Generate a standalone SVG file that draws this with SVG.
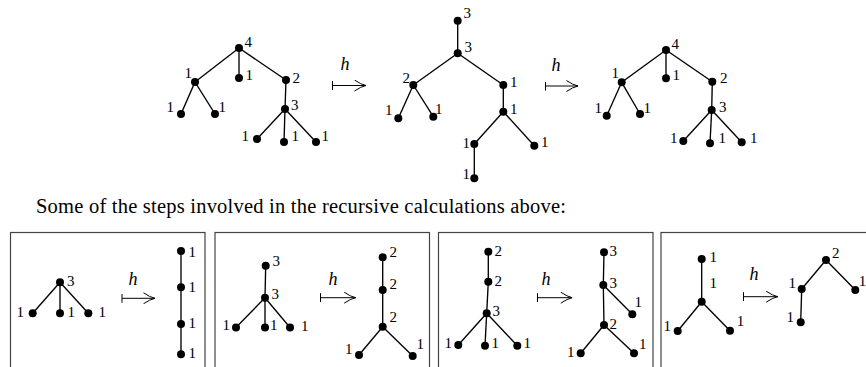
<svg xmlns="http://www.w3.org/2000/svg" width="866" height="367" viewBox="0 0 866 367" font-family="'Liberation Serif', 'DejaVu Serif', serif">
<style>
.e line{stroke:#000;stroke-width:1.35}
circle{fill:#000}
text{font-family:'Liberation Serif','DejaVu Serif',serif;font-size:15px;fill:#000}
text.h{font-style:italic;font-size:18px}
text.cap{font-size:20.5px}
.ar{stroke:#000;stroke-width:1;fill:none}
.box{fill:none;stroke:#444;stroke-width:1.2}
</style>
<defs>
<marker id="ah" viewBox="0 0 12 12" refX="12" refY="6" markerWidth="12" markerHeight="12" markerUnits="userSpaceOnUse" orient="auto">
<path d="M0.5,0.5 Q7,5 12,6 Q7,7 0.5,11.5" fill="none" stroke="#000" stroke-width="1"/>
</marker>
<marker id="bar" viewBox="0 0 2 9" refX="1" refY="4.5" markerWidth="2" markerHeight="9" markerUnits="userSpaceOnUse" orient="auto">
<line x1="1" y1="0" x2="1" y2="9" stroke="#000" stroke-width="1"/>
</marker>
</defs>

<g id="boxes">
<rect class="box" x="10.5" y="232.5" width="194.5" height="200"/>
<rect class="box" x="215" y="232.5" width="214.5" height="200"/>
<rect class="box" x="438.5" y="232.5" width="214.5" height="200"/>
<rect class="box" x="661" y="232.5" width="230" height="200"/>
</g>

<text class="cap" x="36" y="213.3" textLength="530" lengthAdjust="spacing">Some of the steps involved in the recursive calculations above:</text>

<g id="connectors" class="e">
<line x1="239" y1="48" x2="195" y2="82"/>
<line x1="239" y1="48" x2="239" y2="78"/>
<line x1="239" y1="48" x2="286" y2="80"/>
<line x1="195" y1="82" x2="181" y2="114"/>
<line x1="195" y1="82" x2="215" y2="114"/>
<line x1="286" y1="80" x2="285" y2="109"/>
<line x1="285" y1="109" x2="257" y2="139"/>
<line x1="285" y1="109" x2="284" y2="142"/>
<line x1="285" y1="109" x2="316" y2="142"/>
<line x1="457.7" y1="20.7" x2="457.7" y2="53.3"/>
<line x1="457.7" y1="53.3" x2="413.3" y2="85"/>
<line x1="457.7" y1="53.3" x2="503.3" y2="85"/>
<line x1="413.3" y1="85" x2="398.3" y2="118.3"/>
<line x1="413.3" y1="85" x2="433.3" y2="116.7"/>
<line x1="503.3" y1="85" x2="503.3" y2="111.7"/>
<line x1="503.3" y1="111.7" x2="474.3" y2="144"/>
<line x1="503.3" y1="111.7" x2="534.3" y2="145.7"/>
<line x1="474.3" y1="144" x2="474.3" y2="178.3"/>
<line x1="666" y1="50" x2="621.7" y2="82.3"/>
<line x1="666" y1="50" x2="666" y2="78.3"/>
<line x1="666" y1="50" x2="712.3" y2="81.7"/>
<line x1="621.7" y1="82.3" x2="606.7" y2="115.7"/>
<line x1="621.7" y1="82.3" x2="640" y2="114"/>
<line x1="712.3" y1="81.7" x2="711.7" y2="110"/>
<line x1="711.7" y1="110" x2="683.3" y2="141"/>
<line x1="711.7" y1="110" x2="710" y2="143.3"/>
<line x1="711.7" y1="110" x2="741.7" y2="142.3"/>
<line x1="60" y1="282.3" x2="32.7" y2="313.3"/>
<line x1="60" y1="282.3" x2="60" y2="313.3"/>
<line x1="60" y1="282.3" x2="88.3" y2="313.3"/>
<line x1="181" y1="251" x2="181" y2="354.3"/>
<line x1="265.7" y1="265.7" x2="265" y2="297.7"/>
<line x1="265" y1="297.7" x2="236" y2="327.5"/>
<line x1="265" y1="297.7" x2="265" y2="327.5"/>
<line x1="265" y1="297.7" x2="290" y2="327.5"/>
<line x1="382.7" y1="257.3" x2="382.7" y2="326.7"/>
<line x1="382.7" y1="326.7" x2="359" y2="355"/>
<line x1="382.7" y1="326.7" x2="412.7" y2="356"/>
<line x1="488.3" y1="251.7" x2="488.3" y2="281.7"/>
<line x1="488.3" y1="281.7" x2="486.7" y2="313.3"/>
<line x1="486.7" y1="313.3" x2="458.3" y2="345"/>
<line x1="486.7" y1="313.3" x2="485" y2="345.7"/>
<line x1="486.7" y1="313.3" x2="517.3" y2="345.7"/>
<line x1="604" y1="252.3" x2="603.3" y2="285"/>
<line x1="603.3" y1="285" x2="632.3" y2="314.3"/>
<line x1="603.3" y1="285" x2="604" y2="325"/>
<line x1="604" y1="325" x2="580.7" y2="353.3"/>
<line x1="604" y1="325" x2="634" y2="353.3"/>
<line x1="701.7" y1="259" x2="701.7" y2="301.7"/>
<line x1="701.7" y1="301.7" x2="677.7" y2="331"/>
<line x1="701.7" y1="301.7" x2="730" y2="330.7"/>
<line x1="826" y1="260" x2="801.7" y2="289"/>
<line x1="826" y1="260" x2="855.3" y2="290"/>
<line x1="801.7" y1="289" x2="800.7" y2="322.3"/>
</g>

<g id="maps">
<g id="map1"><text class="h" x="340.5" y="70">h</text><line class="ar" x1="332.5" y1="85.5" x2="366" y2="85.5" marker-start="url(#bar)" marker-end="url(#ah)"/></g>
<g id="map2"><text class="h" x="551.5" y="71">h</text><line class="ar" x1="545.5" y1="86" x2="578" y2="86" marker-start="url(#bar)" marker-end="url(#ah)"/></g>
<g id="map3"><text class="h" x="128.5" y="285">h</text><line class="ar" x1="122" y1="298.3" x2="155" y2="298.3" marker-start="url(#bar)" marker-end="url(#ah)"/></g>
<g id="map4"><text class="h" x="328.5" y="285">h</text><line class="ar" x1="320.5" y1="297.7" x2="355.7" y2="297.7" marker-start="url(#bar)" marker-end="url(#ah)"/></g>
<g id="map5"><text class="h" x="541.5" y="285">h</text><line class="ar" x1="537.5" y1="297.7" x2="572.3" y2="297.7" marker-start="url(#bar)" marker-end="url(#ah)"/></g>
<g id="map6"><text class="h" x="749.5" y="280">h</text><line class="ar" x1="743.5" y1="296.7" x2="777.7" y2="296.7" marker-start="url(#bar)" marker-end="url(#ah)"/></g>
</g>

<g id="t1a"><circle cx="239" cy="48" r="4"/><text x="244.5" y="46.7">4</text></g>
<g id="t1b"><circle cx="195" cy="82" r="4"/><text x="184.5" y="78">1</text></g>
<g id="t1c"><circle cx="239" cy="78" r="4"/><text x="245.5" y="80">1</text></g>
<g id="t1d"><circle cx="286" cy="80" r="4"/><text x="292.5" y="82.7">2</text></g>
<g id="t1e"><circle cx="285" cy="109" r="4"/><text x="291" y="110">3</text></g>
<g id="t1f"><circle cx="181" cy="114" r="4"/><text x="166.5" y="111.7">1</text></g>
<g id="t1g"><circle cx="215" cy="114" r="4"/><text x="218.5" y="111.7">1</text></g>
<g id="t1h"><circle cx="257" cy="139" r="4"/><text x="241.5" y="141">1</text></g>
<g id="t1i"><circle cx="284" cy="142" r="4"/><text x="291.5" y="141">1</text></g>
<g id="t1j"><circle cx="316" cy="142" r="4"/><text x="321.5" y="141">1</text></g>

<g id="t2a"><circle cx="457.7" cy="20.7" r="4"/><text x="463.5" y="18.3">3</text></g>
<g id="t2b"><circle cx="457.7" cy="53.3" r="4"/><text x="464.5" y="51.7">3</text></g>
<g id="t2c"><circle cx="413.3" cy="85" r="4"/><text x="402.5" y="82.7">2</text></g>
<g id="t2d"><circle cx="398.3" cy="118.3" r="4"/><text x="385" y="115">1</text></g>
<g id="t2e"><circle cx="433.3" cy="116.7" r="4"/><text x="435" y="114">1</text></g>
<g id="t2f"><circle cx="503.3" cy="85" r="4"/><text x="510" y="87.3">1</text></g>
<g id="t2g"><circle cx="503.3" cy="111.7" r="4"/><text x="510" y="114">1</text></g>
<g id="t2h"><circle cx="474.3" cy="144" r="4"/><text x="462.5" y="148.3">1</text></g>
<g id="t2i"><circle cx="534.3" cy="145.7" r="4"/><text x="541" y="146.7">1</text></g>
<g id="t2j"><circle cx="474.3" cy="178.3" r="4"/><text x="462.5" y="179.3">1</text></g>

<g id="t3a"><circle cx="666" cy="50" r="4"/><text x="671.5" y="49">4</text></g>
<g id="t3b"><circle cx="621.7" cy="82.3" r="4"/><text x="611.5" y="77.7">1</text></g>
<g id="t3c"><circle cx="666" cy="78.3" r="4"/><text x="672.5" y="80">1</text></g>
<g id="t3d"><circle cx="712.3" cy="81.7" r="4"/><text x="720" y="83.3">2</text></g>
<g id="t3e"><circle cx="711.7" cy="110" r="4"/><text x="719" y="112.3">3</text></g>
<g id="t3f"><circle cx="606.7" cy="115.7" r="4"/><text x="594.5" y="113.3">1</text></g>
<g id="t3g"><circle cx="640" cy="114" r="4"/><text x="643.5" y="113">1</text></g>
<g id="t3h"><circle cx="683.3" cy="141" r="4"/><text x="670" y="143.3">1</text></g>
<g id="t3i"><circle cx="710" cy="143.3" r="4"/><text x="718.5" y="143">1</text></g>
<g id="t3j"><circle cx="741.7" cy="142.3" r="4"/><text x="750" y="143">1</text></g>

<g id="b1a"><circle cx="60" cy="282.3" r="4"/><text x="67" y="285.7">3</text></g>
<g id="b1b"><circle cx="32.7" cy="313.3" r="4"/><text x="16.5" y="317.3">1</text></g>
<g id="b1c"><circle cx="60" cy="313.3" r="4"/><text x="67.5" y="317">1</text></g>
<g id="b1d"><circle cx="88.3" cy="313.3" r="4"/><text x="98.5" y="317">1</text></g>
<g id="b1e"><circle cx="181" cy="251" r="4"/><text x="188.5" y="256.7">1</text></g>
<g id="b1f"><circle cx="181" cy="287.3" r="4"/><text x="188.5" y="291.7">1</text></g>
<g id="b1g"><circle cx="181" cy="324" r="4"/><text x="188.5" y="328.3">1</text></g>
<g id="b1h"><circle cx="181" cy="354.3" r="4"/><text x="188.5" y="358.3">1</text></g>

<g id="b2a"><circle cx="265.7" cy="265.7" r="4"/><text x="272.5" y="265.7">3</text></g>
<g id="b2b"><circle cx="265" cy="297.7" r="4"/><text x="271.5" y="299">3</text></g>
<g id="b2c"><circle cx="236" cy="327.5" r="4"/><text x="222.5" y="330">1</text></g>
<g id="b2d"><circle cx="265" cy="327.5" r="4"/><text x="270" y="330">1</text></g>
<g id="b2e"><circle cx="290" cy="327.5" r="4"/><text x="301" y="331">1</text></g>
<g id="b2f"><circle cx="382.7" cy="257.3" r="4"/><text x="389.5" y="257.3">2</text></g>
<g id="b2g"><circle cx="382.7" cy="290" r="4"/><text x="389.5" y="289">2</text></g>
<g id="b2h"><circle cx="382.7" cy="326.7" r="4"/><text x="389.5" y="322.3">2</text></g>
<g id="b2i"><circle cx="359" cy="355" r="4"/><text x="345" y="354.3">1</text></g>
<g id="b2j"><circle cx="412.7" cy="356" r="4"/><text x="416.5" y="349">1</text></g>

<g id="b3a"><circle cx="488.3" cy="251.7" r="4"/><text x="494.5" y="255.7">2</text></g>
<g id="b3b"><circle cx="488.3" cy="281.7" r="4"/><text x="494.5" y="285.7">2</text></g>
<g id="b3c"><circle cx="486.7" cy="313.3" r="4"/><text x="492.5" y="315.7">3</text></g>
<g id="b3d"><circle cx="458.3" cy="345" r="4"/><text x="444.5" y="347.7">1</text></g>
<g id="b3e"><circle cx="485" cy="345.7" r="4"/><text x="491.5" y="347.7">1</text></g>
<g id="b3f"><circle cx="517.3" cy="345.7" r="4"/><text x="523.5" y="347.7">1</text></g>
<g id="b3g"><circle cx="604" cy="252.3" r="4"/><text x="609.5" y="255.7">3</text></g>
<g id="b3h"><circle cx="603.3" cy="285" r="4"/><text x="609.5" y="288.3">3</text></g>
<g id="b3i"><circle cx="632.3" cy="314.3" r="4"/><text x="634.5" y="306.7">1</text></g>
<g id="b3j"><circle cx="604" cy="325" r="4"/><text x="609.5" y="329">2</text></g>
<g id="b3k"><circle cx="580.7" cy="353.3" r="4"/><text x="567" y="356.7">1</text></g>
<g id="b3l"><circle cx="634" cy="353.3" r="4"/><text x="639" y="349">1</text></g>

<g id="b4a"><circle cx="701.7" cy="259" r="4"/><text x="709.5" y="262.3">1</text></g>
<g id="b4b"><circle cx="701.7" cy="301.7" r="4"/><text x="709.5" y="287.7">1</text></g>
<g id="b4c"><circle cx="677.7" cy="331" r="4"/><text x="663.5" y="331">1</text></g>
<g id="b4d"><circle cx="730" cy="330.7" r="4"/><text x="736.8" y="325.7">1</text></g>
<g id="b4e"><circle cx="826" cy="260" r="4"/><text x="832" y="257.7">2</text></g>
<g id="b4f"><circle cx="801.7" cy="289" r="4"/><text x="788.5" y="288.3">1</text></g>
<g id="b4g"><circle cx="855.3" cy="290" r="4"/><text x="858.8" y="286">1</text></g>
<g id="b4h"><circle cx="800.7" cy="322.3" r="4"/><text x="786.5" y="321.7">1</text></g>
</svg>
